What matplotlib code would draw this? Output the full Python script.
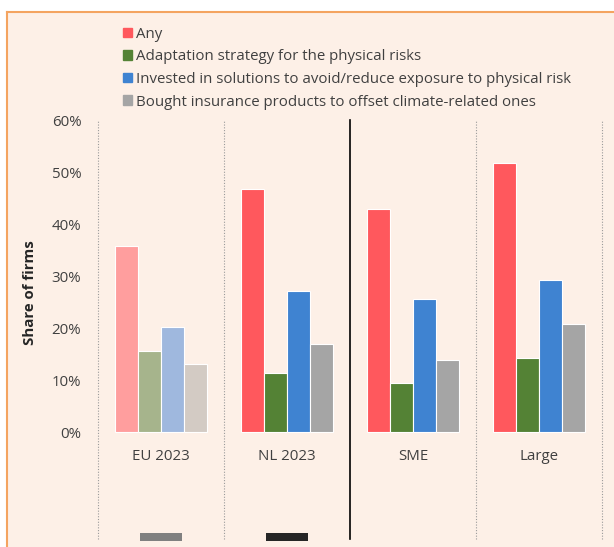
import matplotlib.pyplot as plt
import matplotlib.patches as mpatches
import numpy as np

plt.rcParams['font.family'] = ['Open Sans', 'DejaVu Sans']

# Data (share of firms, %)
categories = ['EU 2023', 'NL 2023', 'SME', 'Large']
series_names = ['Any',
                'Adaptation strategy for the physical risks',
                'Invested in solutions to avoid/reduce exposure to physical risk',
                'Bought insurance products to offset climate-related ones']
any_vals = [35.8, 46.7, 43.0, 51.7]
adapt_vals = [15.6, 11.5, 9.4, 14.2]
invest_vals = [20.3, 27.2, 25.7, 29.3]
insure_vals = [13.2, 16.9, 14.0, 20.9]
yticks = [0, 10, 20, 30, 40, 50, 60]

colors = ['#FF585D', '#548235', '#3F83D1', '#A5A5A5']
faded = ['#FF9E9E', '#A6B48C', '#9FB8DE', '#D3CBC4']  # EU 2023 bars

bg = '#FDF0E7'
txt = '#404040'
fs = 10.8

fig = plt.figure(figsize=(6.14, 5.47), dpi=100)
# peach panel with orange border on top/left
fig.patches.append(mpatches.Rectangle((7 / 614, 0), 1, 1 - 12 / 547, transform=fig.transFigure,
                                      facecolor=bg, edgecolor='none', zorder=-10))
fig.lines.append(plt.Line2D([7 / 614, 1], [1 - 12 / 547] * 2, transform=fig.transFigure,
                            color='#F4A460', lw=1.5, zorder=-5))
fig.lines.append(plt.Line2D([7 / 614] * 2, [0, 1 - 12 / 547], transform=fig.transFigure,
                            color='#F4A460', lw=1.5, zorder=-5))

ax = fig.add_axes([98 / 614, 0, 504 / 614, 1 - 120 / 547])
ax.set_facecolor('none')
ax.set_zorder(1)

x = np.arange(len(categories))
w = 0.1825
all_vals = [any_vals, adapt_vals, invest_vals, insure_vals]
handles = []
for k, vals in enumerate(all_vals):
    cols = [faded[k]] + [colors[k]] * (len(categories) - 1)
    ax.bar(x + (k - 1.5) * w, vals, width=w, color=cols, edgecolor='white', linewidth=0.8, zorder=3)
    handles.append(mpatches.Patch(color=colors[k], label=series_names[k]))

ymin_line = -20.4
ax.set_xlim(-0.5, 3.5)
ax.set_ylim(-22.0, 60)

# separators between groups
for b in [-0.5, 0.5, 2.5, 3.5]:
    ax.plot([b, b], [ymin_line, 60], color='#9A9A9A', lw=0.8, ls=(0, (1, 1.5)), zorder=1, clip_on=False)
ax.plot([1.5, 1.5], [ymin_line, 60], color='black', lw=1.2, zorder=1, clip_on=False)

# category labels
for i, c in enumerate(categories):
    ax.text(i, -4.6, c, ha='center', va='center', fontsize=fs, color=txt)

# small marks at the bottom
ax.add_patch(mpatches.Rectangle((x[0] - 0.163, -20.9), 0.326, 1.55, facecolor='#808080',
                                edgecolor='none', clip_on=False))
ax.add_patch(mpatches.Rectangle((x[1] - 0.163, -20.9), 0.326, 1.55, facecolor='#262626',
                                edgecolor='none', clip_on=False))

ax.set_yticks(yticks)
ax.set_yticklabels([f'{t}%' for t in yticks], fontsize=fs, color=txt)
ax.set_xticks([])
ax.tick_params(axis='y', length=0, pad=12)
for s in ax.spines.values():
    s.set_visible(False)

fig.text(30 / 614, 1 - 293 / 547, 'Share of firms', rotation=90, ha='center', va='center',
         fontsize=fs, fontweight='bold', color='#262626')

fig.legend(handles=handles, loc='upper left', bbox_to_anchor=(111 / 614, 1 - 15 / 547),
           frameon=False, fontsize=fs, handlelength=0.6, handleheight=0.6, handletextpad=0.25,
           labelspacing=0.5, labelcolor=txt, borderpad=0.3)

fig.savefig('out.png', dpi=100, facecolor='white')
